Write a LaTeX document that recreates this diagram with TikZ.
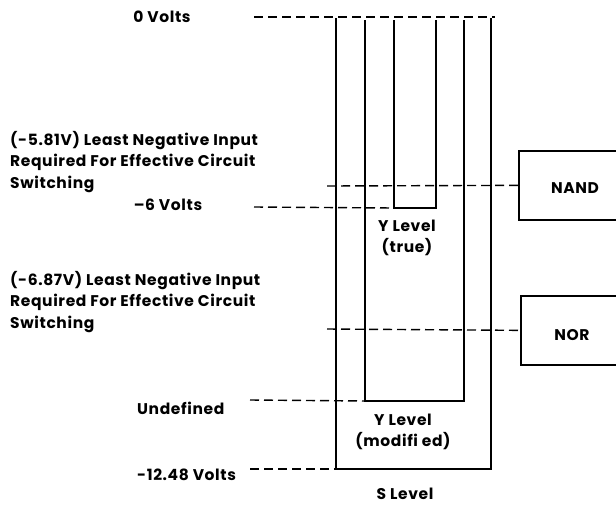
\documentclass[tikz,border=0pt]{standalone}
\usepackage{fontspec}
\setmainfont{Poppins}[LetterSpace=4]
\begin{document}
\begin{tikzpicture}[x=1pt,y=-1pt,
  lbl/.style={inner sep=0pt, font=\fontsize{15.5}{21.5}\selectfont\bfseries},
  lvl/.style={line width=1.7pt},
  dsh/.style={line width=1.4pt, dash pattern=on 9pt off 5pt},
  gate/.style={draw, line width=1.7pt, minimum height=69pt, minimum width=110pt, inner sep=0pt}]
\clip (0,0) rectangle (616,504);
\useasboundingbox (0,0) rectangle (616,504);
% level lines
\coordinate (sTL) at (336,18); \coordinate (sBL) at (336,469);
\coordinate (sBR) at (491,469); \coordinate (sTR) at (491,18);
\coordinate (mTL) at (365,20); \coordinate (mBL) at (365,401);
\coordinate (mBR) at (464,401); \coordinate (mTR) at (464,20);
\coordinate (tTL) at (394,20); \coordinate (tBL) at (394,208);
\coordinate (tBR) at (436,208); \coordinate (tTR) at (436,20);
\draw[lvl] (sTL) -- (sBL) -- (sBR) -- (sTR);
\draw[lvl] (mTL) -- (mBL) -- (mBR) -- (mTR);
\draw[lvl] (tTL) -- (tBL) -- (tBR) -- (tTR);
% gates
\node[gate, anchor=north west] (nand) at (518,150) {};
\node[lbl] (nandt) at (575,188) {NAND};
\node[gate, anchor=north west] (nor) at (520,295) {};
\node[lbl] (nort) at (572,335) {NOR};
% labels
\node[lbl] (zero) at (162,17) {0 Volts};
\node[lbl] (six) at (168,205) {–6 Volts};
\node[lbl, anchor=north west, align=left] (a581) at (10,131) {(-5.81V) Least Negative Input\\Required For Effective Circuit\\Switching};
\node[lbl, anchor=north west, align=left] (a687) at (10,271) {(-6.87V) Least Negative Input\\Required For Effective Circuit\\Switching};
\node[lbl, anchor=west] (undef) at (137,408) {Undefined};
\node[lbl, anchor=west] (v1248) at (137,475) {-12.48 Volts};
\node[lbl, align=center] (ytrue) at (407,238) {Y Level\\(true)};
\node[lbl, align=center] (ymod) at (403,432) {Y Level\\(modifi ed)};
\node[lbl] (slev) at (405,494) {S Level};
% dashed lines
\coordinate (d0a) at (254,17); \coordinate (d0b) at (495,17);
\coordinate (d6a) at (254,207);
\coordinate (dna) at (327,186);
\coordinate (dnoa) at (327,329);
\coordinate (dua) at (250,400);
\coordinate (d12a) at (250,469);
\draw[dsh] (d0a) -- (d0b);
\draw[dsh] (d6a) -- (tBL);
\draw[dsh] (dna) -- (nand.west);
\draw[dsh] (dnoa) -- (nor.west);
\draw[dsh] (dua) -- (mBL);
\draw[dsh] (d12a) -- (sBL);
\end{tikzpicture}
\end{document}
